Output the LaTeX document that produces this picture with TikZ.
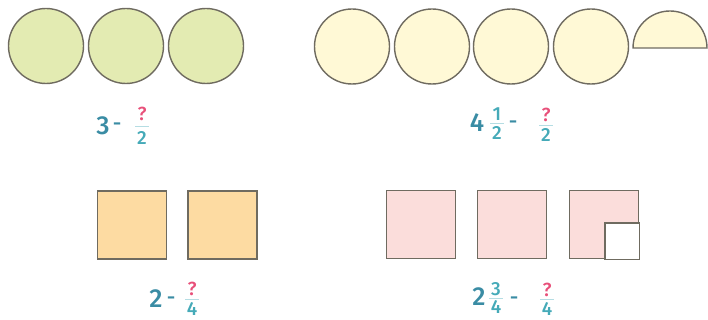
\documentclass[tikz,border=0pt]{standalone}
\usepackage{fontspec}
\setmainfont{Fira Sans Medium}
\usetikzlibrary{calc}
\definecolor{gfill}{HTML}{E3EBB2}
\definecolor{yfill}{HTML}{FFF9D6}
\definecolor{ofill}{HTML}{FDDBA2}
\definecolor{pfill}{HTML}{FBDDDB}
\definecolor{edge}{HTML}{6F6B60}
\definecolor{teal1}{HTML}{3A8CA4}
\definecolor{teal2}{HTML}{45AAB8}
\definecolor{qpink}{HTML}{E8507A}
\begin{document}
\begin{tikzpicture}[x=1pt,y=-1pt,
 disc/.style={circle,draw=edge,line width=1.4pt,minimum size=75pt,inner sep=0pt},
 sq/.style={rectangle,draw=edge,line width=1.4pt,minimum width=69pt,minimum height=68pt,inner sep=0pt},
 big/.style={text=teal1,font=\fontsize{26}{26}\selectfont,inner sep=0pt},
 dsh/.style={text=teal1,font=\fontsize{21}{21}\selectfont,inner sep=0pt},
 small/.style={text=teal2,font=\fontsize{19}{19}\selectfont,inner sep=0pt},
 qm/.style={small,text=qpink},
 fbar/.style={draw=teal2!40,line width=0.6pt}]
\useasboundingbox (0,0) rectangle (708,320);
% top left circles
\node[disc,fill=gfill] (g1) at (46,46) {};
\node[disc,fill=gfill] (g2) at (126,46) {};
\node[disc,fill=gfill] (g3) at (206,46) {};
% top right circles
\node[disc,fill=yfill] (y1) at (352,46.5) {};
\node[disc,fill=yfill] (y2) at (432,46.5) {};
\node[disc,fill=yfill] (y3) at (511,46.5) {};
\node[disc,fill=yfill] (y4) at (591,46.5) {};
\draw[draw=edge,line width=1.4pt,fill=yfill] (633,48) arc[start angle=180,end angle=360,radius=37] -- cycle;
% bottom left squares
\node[sq,fill=ofill] (o1) at (132,225) {};
\node[sq,fill=ofill] (o2) at (222.5,225) {};
% bottom right squares
\node[sq,fill=pfill] (p1) at (421,224.5) {};
\node[sq,fill=pfill] (p2) at (512,224.5) {};
\node[sq,fill=pfill] (p3) at (604,224.5) {};
\draw[draw=edge,line width=1.4pt,fill=white] (p3.east |- 0,223) -| (605,0 |- p3.south) -- (p3.south east) -- cycle;
% label A
\node[big] (a3) at (103,126) {3};
\node[dsh] (am) at (117,127) {-};
\node[qm] (aq) at (142,114) {?};
\node[small] (ad) at (142,138) {2};
\draw[fbar] ($(aq.south)!.5!(ad.north)+(-7,0)$) -- ($(aq.south)!.5!(ad.north)+(7,0)$);
% label B
\node[big] (b4) at (477,123) {4};
\node[small] (bn) at (497,114) {1};
\node[small] (bd) at (497,133) {2};
\draw[fbar] ($(bn.south)!.5!(bd.north)+(-7,0)$) -- ($(bn.south)!.5!(bd.north)+(7,0)$);
\node[dsh] (bm) at (513,125) {-};
\node[qm] (bq) at (546,115) {?};
\node[small] (bd2) at (546,135) {2};
\draw[fbar] ($(bq.south)!.5!(bd2.north)+(-7,0)$) -- ($(bq.south)!.5!(bd2.north)+(7,0)$);
% label C
\node[big] (c2) at (156,299) {2};
\node[dsh] (cm) at (171,301) {-};
\node[qm] (cq) at (192,289) {?};
\node[small] (cd) at (192,309) {4};
\draw[fbar] ($(cq.south)!.5!(cd.north)+(-7,0)$) -- ($(cq.south)!.5!(cd.north)+(7,0)$);
% label D
\node[big] (d2) at (479,297) {2};
\node[small] (dn) at (496,289) {3};
\node[small] (dd) at (496,307) {4};
\draw[fbar] ($(dn.south)!.5!(dd.north)+(-7,0)$) -- ($(dn.south)!.5!(dd.north)+(7,0)$);
\node[dsh] (dm) at (514,301) {-};
\node[qm] (dq) at (547,290) {?};
\node[small] (dd2) at (547,309) {4};
\draw[fbar] ($(dq.south)!.5!(dd2.north)+(-7,0)$) -- ($(dq.south)!.5!(dd2.north)+(7,0)$);
\end{tikzpicture}
\end{document}
